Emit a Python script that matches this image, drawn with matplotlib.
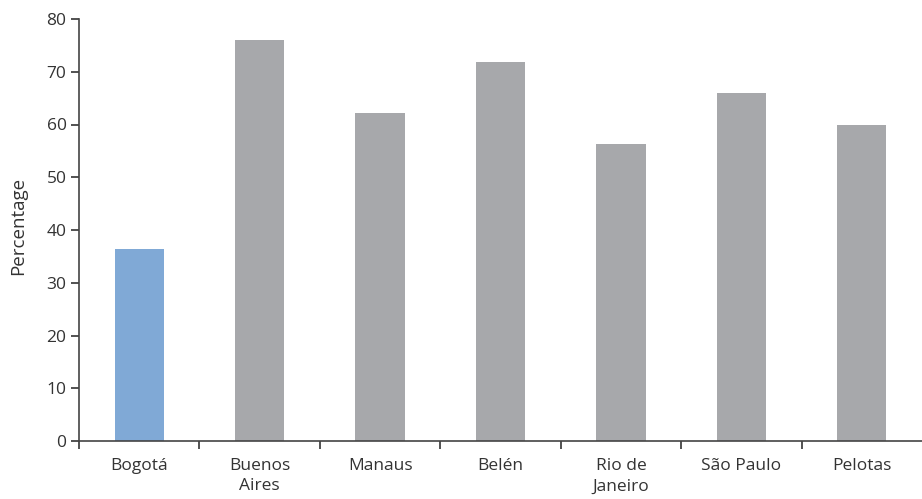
import matplotlib
matplotlib.use('Agg')
import matplotlib.pyplot as plt
import numpy as np

cities = ['Bogotá', 'Buenos\nAires', 'Manaus', 'Belén', 'Rio de\nJaneiro', 'São Paulo', 'Pelotas']
pct = [36.4, 76.0, 62.2, 71.8, 56.3, 66.0, 59.9]
bar_colors = ['#80a9d6', '#a7a8ab', '#a7a8ab', '#a7a8ab', '#a7a8ab', '#a7a8ab', '#a7a8ab']

plt.rcParams['font.family'] = ['Open Sans', 'DejaVu Sans']
plt.rcParams['font.size'] = 12.5

fig = plt.figure(figsize=(9.22, 4.99), dpi=100)
ax = fig.add_axes([79/922, 1 - 441/499, 1 - 79/922, 422/499])

x = np.arange(len(cities))
ax.bar(x, pct, width=0.41, color=bar_colors)

ax.set_xlim(-0.5, 6.5)
ax.set_ylim(0, 80)
ax.set_yticks(range(0, 81, 10))
ax.set_xticks(x)
ax.set_xticklabels(cities, color='#333333', linespacing=1.4)
ax.set_xticks(np.arange(-0.5, 6.0, 1.0), minor=True)
ax.tick_params(axis='x', which='major', length=0, pad=12)
ax.tick_params(axis='x', which='minor', length=6, width=1.2, color='#333333', direction='out')
ax.tick_params(axis='y', length=6, width=1.2, color='#333333', labelcolor='#333333', pad=3)

for s in ['top', 'right']:
    ax.spines[s].set_visible(False)
for s in ['left', 'bottom']:
    ax.spines[s].set_color('#444444')
    ax.spines[s].set_linewidth(1.2)

ax.set_ylabel('Percentage', color='#333333', fontsize=13.5)
ax.yaxis.set_label_coords(-0.062, 0.51)

fig.savefig('out.png', dpi=100)
